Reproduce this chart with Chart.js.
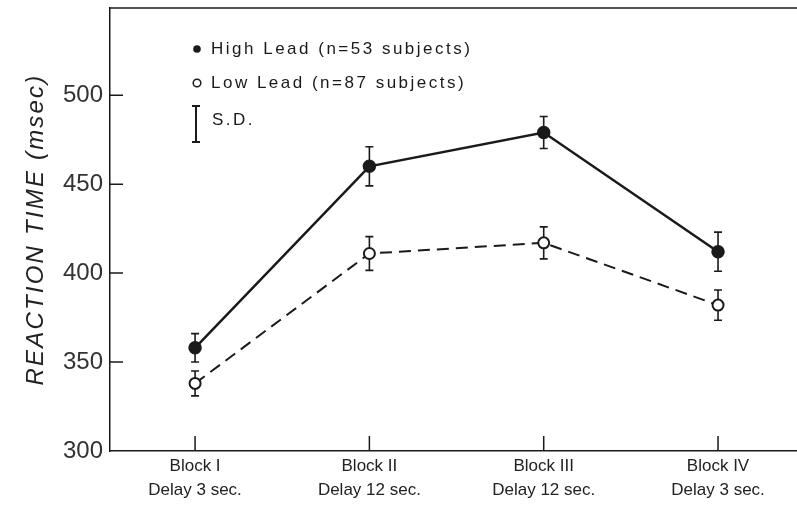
<!DOCTYPE html>
<html><head><meta charset="utf-8">
<script src="https://cdn.jsdelivr.net/npm/chart.js@4.4.1/dist/chart.umd.min.js"></script>
<style>html,body{margin:0;padding:0;background:#fff}#wrap{width:797px;height:509px}</style>
</head><body><div id="wrap"><canvas id="c" width="797" height="509"></canvas></div>
<script>
const categories = [["Block I","Delay 3 sec."],["Block II","Delay 12 sec."],["Block III","Delay 12 sec."],["Block IV","Delay 3 sec."]];
const highLead = [358, 460, 479, 412];
const highLeadSD = [8, 11, 9, 11];
const lowLead = [338, 411, 417, 382];
const lowLeadSD = [7, 9.5, 9, 8.5];
const yTicks = [300, 350, 400, 450, 500];
const legendLabels = ["High Lead (n=53 subjects)", "Low Lead (n=87 subjects)", "S.D."];
const yTitle = "REACTION TIME (msec)";

const INK = '#1a1a1a';

const frame = {
  id: 'frame',
  afterDatasetsDraw(chart) {
    // the y-axis title layer (grid z=1) is drawn after this hook
    chart.ctx.letterSpacing = '2.2px';
  },
  afterDraw(chart) {
    const {ctx, chartArea: a, scales: {x, y}} = chart;
    ctx.letterSpacing = '0px';
    ctx.save();
    ctx.strokeStyle = INK; ctx.lineWidth = 1.5;
    ctx.beginPath(); ctx.moveTo(a.left, a.top); ctx.lineTo(a.right, a.top); ctx.stroke();
    ctx.beginPath();
    yTicks.forEach(v => { if (v === y.min) return; const py = y.getPixelForValue(v); ctx.moveTo(a.left, py); ctx.lineTo(a.left + 13, py); });
    categories.forEach((c, i) => { const px = x.getPixelForValue(i + 1); ctx.moveTo(px, a.bottom); ctx.lineTo(px, a.bottom - 15); });
    ctx.stroke();
    ctx.restore();
  }
};

const errorBars = {
  id: 'errorBars',
  beforeDatasetsDraw(chart) {
    const {ctx, scales: {x, y}} = chart;
    ctx.save();
    ctx.strokeStyle = INK; ctx.lineWidth = 1.6;
    const draw = (vals, sds) => vals.forEach((v, i) => {
      const px = x.getPixelForValue(i + 1);
      const t = y.getPixelForValue(v + sds[i]), b = y.getPixelForValue(v - sds[i]);
      ctx.beginPath();
      ctx.moveTo(px, t); ctx.lineTo(px, b);
      ctx.moveTo(px - 4, t); ctx.lineTo(px + 4, t);
      ctx.moveTo(px - 4, b); ctx.lineTo(px + 4, b);
      ctx.stroke();
    });
    draw(highLead, highLeadSD);
    draw(lowLead, lowLeadSD);
    ctx.restore();
  }
};

const legend = {
  id: 'customLegend',
  afterDraw(chart) {
    const {ctx} = chart;
    ctx.save();
    ctx.fillStyle = INK; ctx.strokeStyle = INK;
    ctx.font = '17px "Liberation Sans", Arial, sans-serif';
    ctx.textBaseline = 'middle';
    ctx.letterSpacing = '2.5px';
    ctx.beginPath(); ctx.arc(197, 49, 3.8, 0, Math.PI * 2); ctx.fill();
    ctx.fillText(legendLabels[0], 211, 49);
    ctx.lineWidth = 1.5;
    ctx.beginPath(); ctx.arc(197, 83, 3.8, 0, Math.PI * 2); ctx.stroke();
    ctx.fillText(legendLabels[1], 211, 83);
    ctx.lineWidth = 2;
    ctx.beginPath();
    ctx.moveTo(196, 106); ctx.lineTo(196, 142);
    ctx.moveTo(192, 106); ctx.lineTo(200, 106);
    ctx.moveTo(192, 142); ctx.lineTo(200, 142);
    ctx.stroke();
    ctx.fillText(legendLabels[2], 212, 120);
    ctx.restore();
  }
};

new Chart(document.getElementById('c'), {
  type: 'line',
  data: {
    datasets: [
      {
        label: legendLabels[0],
        data: highLead.map((v, i) => ({x: i + 1, y: v})),
        borderColor: INK, borderWidth: 2.5, tension: 0,
        pointRadius: 5.5, pointBackgroundColor: INK, pointBorderColor: INK
      },
      {
        label: legendLabels[1],
        data: lowLead.map((v, i) => ({x: i + 1, y: v})),
        borderColor: INK, borderWidth: 2, borderDash: [12, 7], tension: 0,
        pointRadius: 5.5, pointBackgroundColor: '#fff', pointBorderColor: INK, pointBorderWidth: 2
      }
    ]
  },
  options: {
    responsive: false, animation: false, devicePixelRatio: 1,
    layout: {autoPadding: false, padding: {top: 8, right: 0, left: 0, bottom: 0}},
    plugins: {legend: {display: false}, tooltip: {enabled: false}},
    scales: {
      x: {
        type: 'linear', min: 0.512, max: 4.453,
        grid: {display: false, drawTicks: false, z: -1},
        border: {display: true, color: INK, width: 1.5, z: 0},
        afterBuildTicks: s => { s.ticks = categories.map((c, i) => ({value: i + 1})); },
        afterFit: s => { s.height = 58; s.paddingLeft = 0; s.paddingRight = 0; },
        ticks: {
          callback: v => categories[v - 1],
          color: '#222', padding: 4, maxRotation: 0, autoSkip: false, z: 0,
          font: {family: '"Liberation Sans", Arial, sans-serif', size: 17, lineHeight: 1.38}
        }
      },
      y: {
        min: 300, max: 549,
        grid: {display: false, drawTicks: false, z: 1},
        border: {display: true, color: INK, width: 1.5, z: 1},
        afterBuildTicks: s => { s.ticks = yTicks.map(v => ({value: v})); },
        afterFit: s => { s.width = 110; s.paddingTop = 0; s.paddingBottom = 0; },
        ticks: {
          color: '#333', padding: 7, z: 0,
          font: {family: '"Liberation Sans", Arial, sans-serif', size: 24}
        },
        title: {
          display: true, text: yTitle, color: '#222',
          padding: {top: 22, bottom: 0},
          font: {family: '"Liberation Sans", Arial, sans-serif', size: 24, style: 'italic'}
        }
      }
    }
  },
  plugins: [frame, errorBars, legend]
});
</script>
</body></html>
